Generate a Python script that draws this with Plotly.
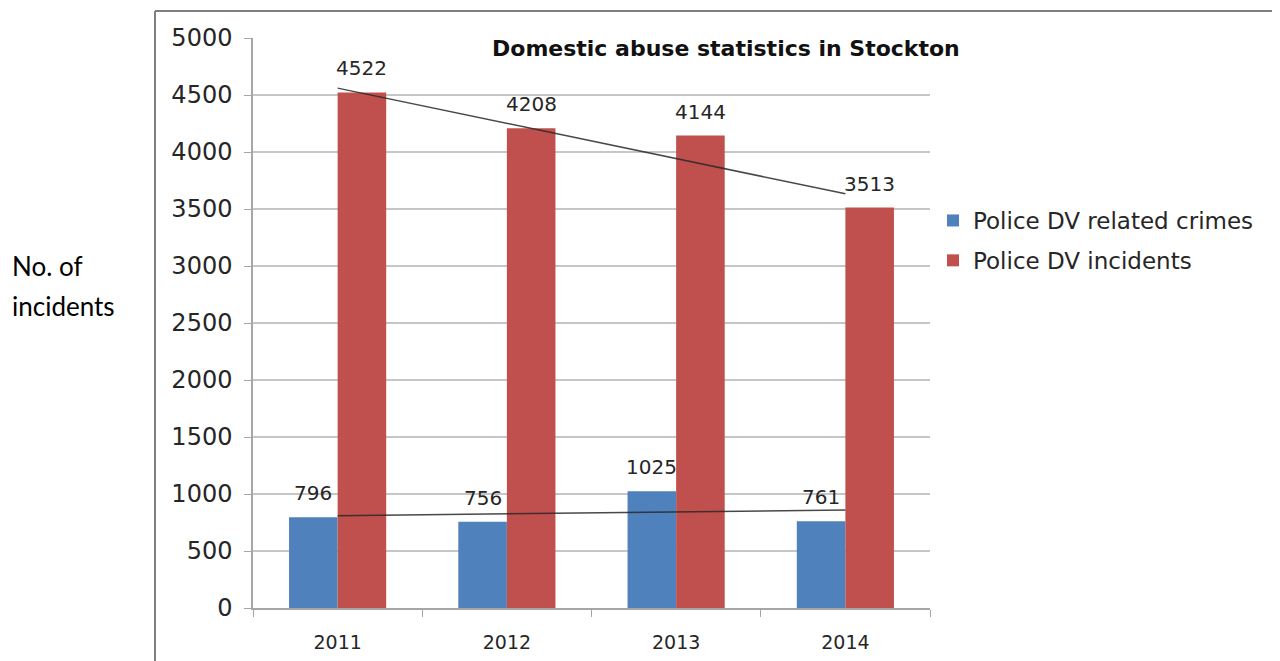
import numpy as np
import plotly.graph_objects as go

years = ["2011", "2012", "2013", "2014"]
crimes = [796, 756, 1025, 761]
incidents = [4522, 4208, 4144, 3513]
series_names = ["Police DV related crimes", "Police DV incidents"]
title_text = "Domestic abuse statistics in Stockton"
y_label_lines = ["No. of", "incidents"]
y_ticks = [0, 500, 1000, 1500, 2000, 2500, 3000, 3500, 4000, 4500, 5000]

BLUE = "#4F81BD"
RED = "#C0504D"
FONT = "'DejaVu Sans', sans-serif"
FONT2 = "Lato, 'Open Sans', sans-serif"
TXT = "#262626"

# page body has an 8px margin: work in figure coordinates (screen - 8)
W, H = 1280, 661
L, T = 245, 30
PR, PB = 922, 600
R, B = W - PR, H - PB
pw, ph = PR - L, PB - T

def px(x):
    return (x - L) / pw

def py(y):
    return 1 - (y - T) / ph

fig = go.Figure()
fig.add_trace(go.Bar(x=years, y=crimes, name=series_names[0], legendgroup="a",
                     marker=dict(color=BLUE, line=dict(width=0))))
fig.add_trace(go.Bar(x=years, y=incidents, name=series_names[1], legendgroup="b",
                     marker=dict(color=RED, line=dict(width=0))))

# linear trend lines
xi = np.arange(1, len(years) + 1)
for vals in (incidents, crimes):
    m, c = np.polyfit(xi, vals, 1)
    fig.add_trace(go.Scatter(x=years, y=(m * xi + c).tolist(), mode="lines", showlegend=False,
                             line=dict(color="rgba(40,40,40,0.85)", width=1.5), hoverinfo="skip"))

# data labels (category index positions)
half = pw / len(years) * (1 - 0.426) / 4
for vals, sh in ((crimes, -half), (incidents, half)):
    for i, v in enumerate(vals):
        fig.add_annotation(x=i, y=v, text=str(v), showarrow=False, xshift=sh, yshift=10,
                           yanchor="bottom", font=dict(family=FONT, size=20, color=TXT))

fig.add_annotation(xref="paper", yref="paper", x=px(718), y=py(40),
                   text="<b>" + title_text + "</b>", showarrow=False, xanchor="center", yanchor="middle",
                   font=dict(family=FONT, size=22, color="#111"))

for k, line in enumerate(y_label_lines):
    fig.add_annotation(xref="paper", yref="paper", x=px(2), y=py(258 + 40 * k),
                       text=line, showarrow=False, xanchor="left", yanchor="middle", align="left",
                       font=dict(family=FONT2, size=26, color="#000"))

# outer frame (left and top edges)
fig.add_shape(type="line", xref="paper", yref="paper", x0=px(147), x1=px(147),
              y0=py(3), y1=py(H + 10), line=dict(color="#7f7f7f", width=2))
fig.add_shape(type="line", xref="paper", yref="paper", x0=px(147), x1=px(W + 10),
              y0=py(3), y1=py(3), line=dict(color="#7f7f7f", width=2))

fig.update_layout(
    width=W, height=H,
    margin=dict(l=L, r=R, t=T, b=B, autoexpand=False),
    paper_bgcolor="white", plot_bgcolor="white",
    barmode="group", bargap=0.426, bargroupgap=0,
    font=dict(family=FONT, color=TXT),
    legend=dict(x=px(925), xanchor="left", y=py(191), yanchor="top",
                font=dict(family=FONT, size=23, color=TXT), bgcolor="rgba(0,0,0,0)",
                itemwidth=30, tracegroupgap=7, traceorder="grouped"),
    xaxis=dict(type="category", range=[-0.5, len(years) - 0.5], showgrid=False, showline=True,
               linecolor="#a6a6a6", linewidth=1.5, automargin=False,
               ticks="outside", tickson="boundaries", ticklen=7, tickcolor="#a6a6a6", tickangle=0,
               tickfont=dict(family=FONT, size=19, color=TXT), ticklabelstandoff=16),
    yaxis=dict(range=[0, 5000], tickvals=y_ticks, showgrid=True, gridcolor="#c6c6c6", gridwidth=1.5,
               showline=True, linecolor="#a6a6a6", linewidth=1.5, ticks="outside", ticklen=7,
               tickcolor="#a6a6a6", zeroline=False, automargin=False,
               tickfont=dict(family=FONT, size=24, color=TXT), ticklabelstandoff=7),
)

fig.write_html("out.html")
